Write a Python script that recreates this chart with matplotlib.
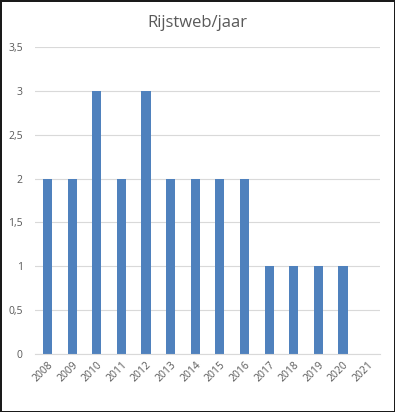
import numpy as np
import matplotlib
matplotlib.use('Agg')
import matplotlib.pyplot as plt
from matplotlib.ticker import FuncFormatter

years = ['2008', '2009', '2010', '2011', '2012', '2013', '2014',
         '2015', '2016', '2017', '2018', '2019', '2020', '2021']
counts = [2, 2, 3, 2, 3, 2, 2, 2, 2, 1, 1, 1, 1, 0]

plt.rcParams['font.family'] = ['Open Sans', 'DejaVu Sans']
grey = '#595959'

fig = plt.figure(figsize=(3.95, 4.12), dpi=100)
fig.patch.set_edgecolor('#1a1a1a')
fig.patch.set_linewidth(2)
ax = fig.add_axes([0.089, 0.141, 0.873, 0.745])

x = np.arange(len(years))
ax.bar(x, counts, width=0.37, color='#4F81BD', zorder=3)

ax.set_xlim(-0.5, len(years) - 0.5)
ax.set_ylim(0, 3.5)
ax.set_yticks(np.arange(0, 3.51, 0.5))
ax.yaxis.set_major_formatter(FuncFormatter(lambda v, p: ('%g' % v).replace('.', ',')))
ax.set_xticks(x)
ax.set_xticklabels(years, rotation=45, ha='right', rotation_mode='anchor')
ax.tick_params(axis='both', length=0, labelsize=7.5, colors=grey)
ax.tick_params(axis='x', pad=4)
ax.tick_params(axis='y', pad=9)

ax.grid(axis='y', color='#D9D9D9', linewidth=0.8, zorder=0)
for s in ['top', 'right', 'left']:
    ax.spines[s].set_visible(False)
ax.spines['bottom'].set_color('#D9D9D9')
ax.spines['bottom'].set_zorder(4)

fig.text(0.5, 0.945, 'Rijstweb/jaar', ha='center', va='center', fontsize=12, color=grey)

fig.savefig('out.png', dpi=100, edgecolor=fig.get_edgecolor())
